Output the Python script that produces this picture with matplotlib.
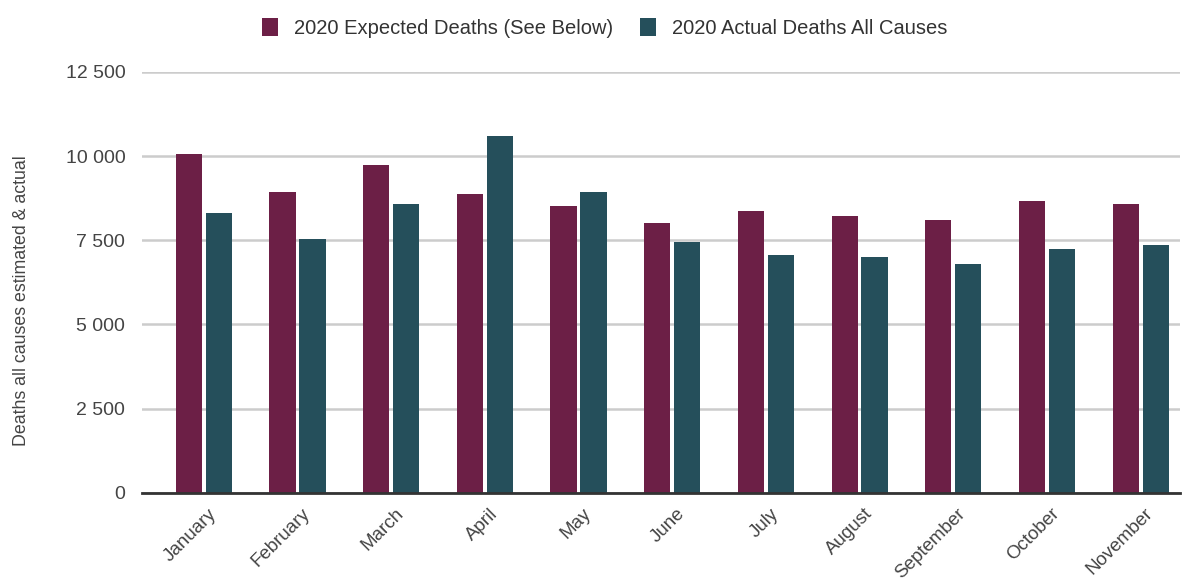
import matplotlib
matplotlib.use("Agg")
import matplotlib.pyplot as plt
from matplotlib.patches import Patch
from matplotlib.ticker import FuncFormatter
import matplotlib.transforms as mtransforms
import numpy as np

months = ["January", "February", "March", "April", "May", "June", "July",
          "August", "September", "October", "November"]
expected = [10060, 8930, 9730, 8870, 8510, 8020, 8370, 8210, 8110, 8670, 8570]
actual = [8310, 7550, 8570, 10590, 8930, 7460, 7050, 7000, 6800, 7250, 7350]
series_names = ["2020 Expected Deaths (See Below)", "2020 Actual Deaths All Causes"]
yticks = [0, 2500, 5000, 7500, 10000, 12500]
ylabel = "Deaths all causes estimated & actual"

c_exp = "#6c1f46"
c_act = "#254f5b"

plt.rcParams['font.family'] = ['Liberation Sans', 'DejaVu Sans']

fig = plt.figure(figsize=(11.95, 5.84), dpi=100)
ax = fig.add_axes([142/1195, 1 - 492.7/584, (1180-142)/1195, (492.7-72)/584])

x = np.arange(len(months))
w = 0.28
off = 0.16
ax.bar(x - off, expected, width=w, color=c_exp, zorder=3)
ax.bar(x + off, actual, width=w, color=c_act, zorder=3)

ax.set_xlim(-0.66, len(months) - 1 + 0.42)
ax.set_ylim(0, 12500)
ax.set_yticks(yticks)
ax.yaxis.set_major_formatter(FuncFormatter(lambda v, p: f"{int(v):,}".replace(",", " ")))
ax.grid(axis='y', color='#cccccc', linewidth=1.8, zorder=0)
ax.set_axisbelow(True)
for s in ['top', 'right', 'left']:
    ax.spines[s].set_visible(False)
ax.spines['bottom'].set_color('#333333')
ax.spines['bottom'].set_linewidth(2)
ax.spines['bottom'].set_zorder(4)
ax.tick_params(axis='y', length=0, pad=12, labelsize=14, labelcolor='#444444')
ax.tick_params(axis='x', length=0, pad=9, labelsize=13.5, labelcolor='#444444')
ax.set_xticks(x)
ax.set_xticklabels(months, rotation=45, ha='right', rotation_mode='anchor')
shift = mtransforms.ScaledTranslation(4/100, 0, fig.dpi_scale_trans)
for lab in ax.get_xticklabels():
    lab.set_transform(lab.get_transform() + shift)

fig.text(22/1195, 1 - 301/584, ylabel, rotation=90, va='center', ha='center',
         fontsize=12.8, color='#444444')

handles = [Patch(facecolor=c_exp, edgecolor='none'), Patch(facecolor=c_act, edgecolor='none')]
fig.legend(handles, series_names, loc='upper center', bbox_to_anchor=(0.506, 1.0),
           ncol=2, frameon=False, fontsize=14.5, handlelength=0.8, handleheight=1.0,
           handletextpad=0.8, columnspacing=1.3, labelcolor='#333333')

fig.savefig("out.png", dpi=100, facecolor='white')
